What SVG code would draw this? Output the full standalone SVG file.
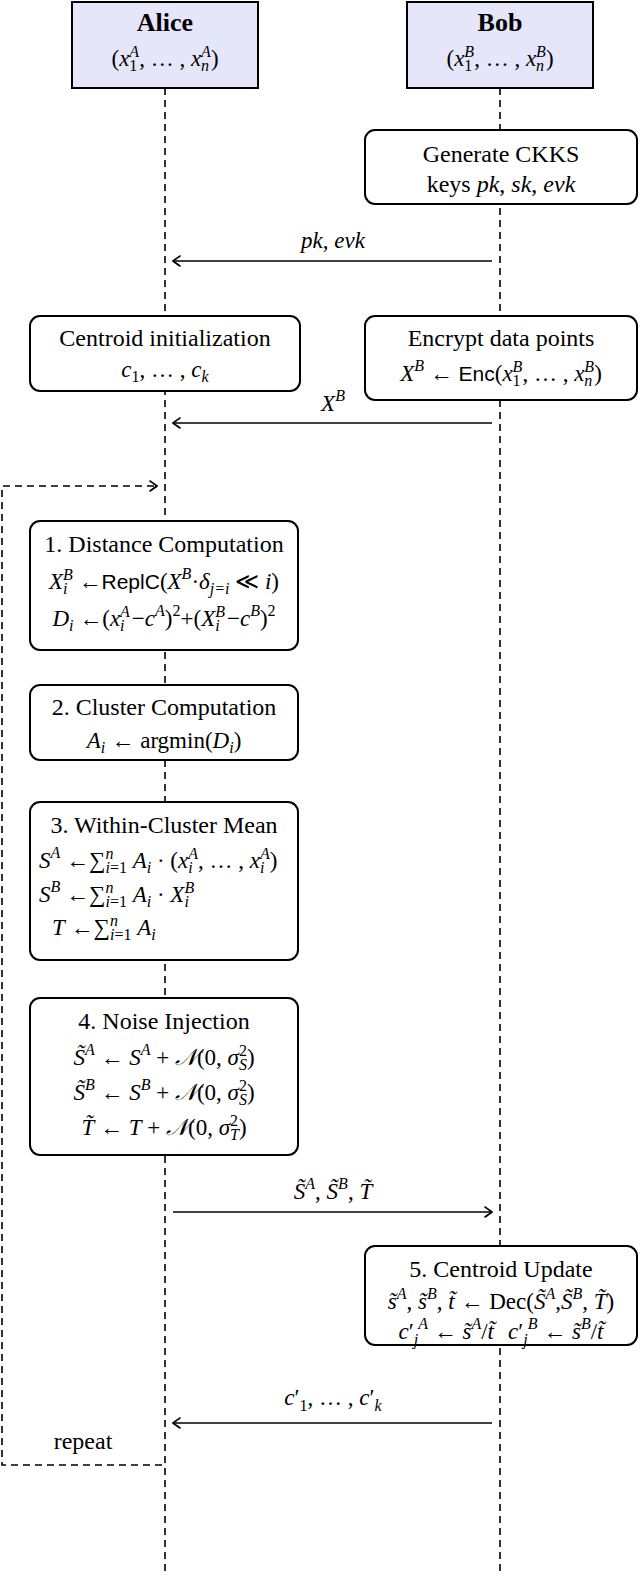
<svg xmlns="http://www.w3.org/2000/svg" width="640" height="1575" viewBox="0 0 640 1575">
<defs>
<marker id="ah" markerUnits="userSpaceOnUse" markerWidth="14" markerHeight="14" refX="0" refY="0" viewBox="-8 -7 10 14" orient="auto">
<path d="M -7 -5 Q -2 -1.5 0 0 Q -2 1.5 -7 5" fill="none" stroke="#000" stroke-width="1.6" stroke-linecap="round"/>
</marker>
<style>
text{font-family:"Liberation Serif","DejaVu Serif",serif;font-size:24px;fill:#000}
.c{text-anchor:middle}
.b{font-weight:bold;font-size:26px}
.m{font-size:23px}
.i{font-style:italic}
.s{font-family:"Liberation Sans","DejaVu Sans",sans-serif;font-size:21px}
.sm{font-size:16px}
.head{fill:#e6e6fa;stroke:#000;stroke-width:2}
.box{fill:#fff;stroke:#000;stroke-width:2}
.life{stroke:#000;stroke-width:1.6;stroke-dasharray:7 5;fill:none}
.msg{stroke:#000;stroke-width:1.6;fill:none;marker-end:url(#ah)}
</style>
</defs>

<g id="lifelines">
<line class="life" x1="165" y1="88" x2="165" y2="1575"/>
<line class="life" x1="500" y1="88" x2="500" y2="1575"/>
</g>

<g id="alice">
<rect class="head" x="72" y="2" width="186" height="86"/>
<text class="c b" x="165" y="31">Alice</text>
<text class="c m" x="165" y="66">(<tspan class="i">x</tspan><tspan class="sm" dy="5">1</tspan><tspan class="sm i" dx="-8" dy="-14">A</tspan><tspan dy="9">, … , </tspan><tspan class="i">x</tspan><tspan class="sm i" dy="5">n</tspan><tspan class="sm i" dx="-8" dy="-14">A</tspan><tspan dy="9">)</tspan></text>
</g>

<g id="bob">
<rect class="head" x="407" y="2" width="186" height="86"/>
<text class="c b" x="500" y="31">Bob</text>
<text class="c m" x="500" y="66">(<tspan class="i">x</tspan><tspan class="sm" dy="5">1</tspan><tspan class="sm i" dx="-8" dy="-14">B</tspan><tspan dy="9">, … , </tspan><tspan class="i">x</tspan><tspan class="sm i" dy="5">n</tspan><tspan class="sm i" dx="-8" dy="-14">B</tspan><tspan dy="9">)</tspan></text>
</g>

<g id="keygen">
<rect class="box" x="365" y="130" width="272" height="74" rx="10"/>
<text class="c" x="501" y="162">Generate CKKS</text>
<text class="c" x="501" y="192">keys <tspan class="i">pk</tspan>, <tspan class="i">sk</tspan>, <tspan class="i">evk</tspan></text>
</g>

<g id="centroid-init">
<rect class="box" x="30" y="316" width="270" height="75" rx="10"/>
<text class="c" x="165" y="346">Centroid initialization</text>
<text class="c m" x="165" y="377"><tspan class="i">c</tspan><tspan class="sm" dy="5">1</tspan><tspan dy="-5">, … , </tspan><tspan class="i">c</tspan><tspan class="sm i" dy="5">k</tspan></text>
</g>

<g id="encrypt">
<rect class="box" x="365" y="316" width="272" height="84" rx="10"/>
<text class="c" x="501" y="346">Encrypt data points</text>
<text class="c m" x="501" y="381"><tspan class="i">X</tspan><tspan class="sm i" dy="-10">B</tspan><tspan dy="10"> ← </tspan><tspan class="s">Enc</tspan>(<tspan class="i">x</tspan><tspan class="sm" dy="5">1</tspan><tspan class="sm i" dx="-8" dy="-14">B</tspan><tspan dy="9">, … , </tspan><tspan class="i">x</tspan><tspan class="sm i" dy="5">n</tspan><tspan class="sm i" dx="-8" dy="-14">B</tspan><tspan dy="9">)</tspan></text>
</g>

<g id="step1">
<rect class="box" x="30" y="521" width="268" height="129" rx="10"/>
<text class="c" x="164" y="552">1. Distance Computation</text>
<text class="c m" x="164" y="589"><tspan class="i">X</tspan><tspan class="sm i" dy="5">i</tspan><tspan class="sm i" dx="-4.5" dy="-14">B</tspan><tspan dy="9"> ←</tspan><tspan class="s">ReplC</tspan>(<tspan class="i">X</tspan><tspan class="sm i" dy="-10">B</tspan><tspan dy="10">·</tspan><tspan class="i">δ</tspan><tspan class="sm i" dy="5">j=i</tspan><tspan dy="-5"> ≪ </tspan><tspan class="i">i</tspan>)</text>
<text class="c m" x="164" y="626"><tspan class="i">D</tspan><tspan class="sm i" dy="5">i</tspan><tspan dy="-5"> ←(</tspan><tspan class="i">x</tspan><tspan class="sm i" dy="5">i</tspan><tspan class="sm i" dx="-4.5" dy="-14">A</tspan><tspan dy="9" dx="2">−</tspan><tspan class="i">c</tspan><tspan class="sm i" dy="-10">A</tspan><tspan dy="10">)</tspan><tspan class="sm" dy="-10">2</tspan><tspan dy="10">+(</tspan><tspan class="i">X</tspan><tspan class="sm i" dy="5">i</tspan><tspan class="sm i" dx="-4.5" dy="-14">B</tspan><tspan dy="9" dx="2">−</tspan><tspan class="i">c</tspan><tspan class="sm i" dy="-10">B</tspan><tspan dy="10">)</tspan><tspan class="sm" dy="-10">2</tspan></text>
</g>

<g id="step2">
<rect class="box" x="30" y="685" width="268" height="75" rx="10"/>
<text class="c" x="164" y="715">2. Cluster Computation</text>
<text class="c m" x="164" y="748"><tspan class="i">A</tspan><tspan class="sm i" dy="5">i</tspan><tspan dy="-5" dx="6">←</tspan><tspan dx="6">argmin(</tspan><tspan class="i">D</tspan><tspan class="sm i" dy="5">i</tspan><tspan dy="-5">)</tspan></text>
</g>

<g id="step3">
<rect class="box" x="30" y="802" width="268" height="158" rx="10"/>
<text class="c" x="164" y="833">3. Within-Cluster Mean</text>
<text class="m" x="39" y="868"><tspan class="i">S</tspan><tspan class="sm i" dy="-10">A</tspan><tspan dy="10"> ←</tspan>∑<tspan class="sm i" dy="-9">n</tspan><tspan class="sm" dx="-8" dy="14"><tspan class="i">i</tspan>=1</tspan><tspan dy="-5"> </tspan><tspan class="i">A</tspan><tspan class="sm i" dy="5">i</tspan><tspan dy="-5"> · (</tspan><tspan class="i">x</tspan><tspan class="sm i" dy="5">i</tspan><tspan class="sm i" dx="-4.5" dy="-14">A</tspan><tspan dy="9">, … , </tspan><tspan class="i">x</tspan><tspan class="sm i" dy="5">i</tspan><tspan class="sm i" dx="-4.5" dy="-14">A</tspan><tspan dy="9">)</tspan></text>
<text class="m" x="39" y="902"><tspan class="i">S</tspan><tspan class="sm i" dy="-10">B</tspan><tspan dy="10"> ←</tspan>∑<tspan class="sm i" dy="-9">n</tspan><tspan class="sm" dx="-8" dy="14"><tspan class="i">i</tspan>=1</tspan><tspan dy="-5"> </tspan><tspan class="i">A</tspan><tspan class="sm i" dy="5">i</tspan><tspan dy="-5"> · </tspan><tspan class="i">X</tspan><tspan class="sm i" dy="5">i</tspan><tspan class="sm i" dx="-4.5" dy="-14">B</tspan></text>
<text class="m" x="52" y="935"><tspan class="i">T</tspan> ←∑<tspan class="sm i" dy="-9">n</tspan><tspan class="sm" dx="-8" dy="14"><tspan class="i">i</tspan>=1</tspan><tspan dy="-5"> </tspan><tspan class="i">A</tspan><tspan class="sm i" dy="5">i</tspan></text>
</g>

<g id="step4">
<rect class="box" x="30" y="998" width="268" height="157" rx="10"/>
<text class="c" x="164" y="1029">4. Noise Injection</text>
<text class="c m" x="164" y="1065"><tspan class="i">S̃</tspan><tspan class="sm i" dy="-10">A</tspan><tspan dy="10"> ← </tspan><tspan class="i">S</tspan><tspan class="sm i" dy="-10">A</tspan><tspan dy="10"> + </tspan><tspan class="i">𝒩</tspan>(0, <tspan class="i">σ</tspan><tspan class="sm" dy="-9">2</tspan><tspan class="sm i" dx="-8" dy="14">S</tspan><tspan dy="-5">)</tspan></text>
<text class="c m" x="164" y="1100"><tspan class="i">S̃</tspan><tspan class="sm i" dy="-10">B</tspan><tspan dy="10"> ← </tspan><tspan class="i">S</tspan><tspan class="sm i" dy="-10">B</tspan><tspan dy="10"> + </tspan><tspan class="i">𝒩</tspan>(0, <tspan class="i">σ</tspan><tspan class="sm" dy="-9">2</tspan><tspan class="sm i" dx="-8" dy="14">S</tspan><tspan dy="-5">)</tspan></text>
<text class="c m" x="164" y="1135"><tspan class="i">T̃</tspan> ← <tspan class="i">T</tspan> + <tspan class="i">𝒩</tspan>(0, <tspan class="i">σ</tspan><tspan class="sm" dy="-9">2</tspan><tspan class="sm i" dx="-8" dy="14">T</tspan><tspan dy="-5">)</tspan></text>
</g>

<g id="step5">
<rect class="box" x="365" y="1246" width="272" height="99" rx="10"/>
<text class="c" x="501" y="1277">5. Centroid Update</text>
<text class="c m" x="501" y="1309"><tspan class="i">s̃</tspan><tspan class="sm i" dy="-10">A</tspan><tspan dy="10">, </tspan><tspan class="i">s̃</tspan><tspan class="sm i" dy="-10">B</tspan><tspan dy="10">, </tspan><tspan class="i">t̃</tspan> ← Dec(<tspan class="i">S̃</tspan><tspan class="sm i" dy="-10">A</tspan><tspan dy="10">,</tspan><tspan class="i">S̃</tspan><tspan class="sm i" dy="-10">B</tspan><tspan dy="10">, </tspan><tspan class="i">T̃</tspan>)</text>
<text class="c m" x="501" y="1339"><tspan class="i">c</tspan><tspan>′</tspan><tspan class="sm i" dy="6">j</tspan><tspan class="sm i" dy="-16">A</tspan><tspan dy="10"> ← </tspan><tspan class="i">s̃</tspan><tspan class="sm i" dy="-10">A</tspan><tspan dy="10">/</tspan><tspan class="i">t̃</tspan><tspan class="i" dx="14">c</tspan><tspan>′</tspan><tspan class="sm i" dy="6">j</tspan><tspan class="sm i" dy="-16">B</tspan><tspan dy="10"> ← </tspan><tspan class="i">s̃</tspan><tspan class="sm i" dy="-10">B</tspan><tspan dy="10">/</tspan><tspan class="i">t̃</tspan></text>
</g>

<g id="connectors">
<line class="msg" x1="492" y1="261" x2="173" y2="261"/>
<line class="msg" x1="492" y1="423" x2="173" y2="423"/>
<line class="msg" x1="173" y1="1212" x2="492" y2="1212"/>
<line class="msg" x1="492" y1="1423" x2="173" y2="1423"/>
<path class="life" d="M 162 1465 L 2 1465 L 2 486 L 157 486" style="marker-end:url(#ah)"/>
</g>

<g id="labels">
<text class="c m" x="333" y="248"><tspan class="i">pk</tspan>, <tspan class="i">evk</tspan></text>
<text class="c m" x="333" y="411"><tspan class="i">X</tspan><tspan class="sm i" dy="-10">B</tspan></text>
<text class="c m" x="333" y="1199"><tspan class="i">S̃</tspan><tspan class="sm i" dy="-10">A</tspan><tspan dy="10">, </tspan><tspan class="i">S̃</tspan><tspan class="sm i" dy="-10">B</tspan><tspan dy="10">, </tspan><tspan class="i">T̃</tspan></text>
<text class="c m" x="333" y="1405"><tspan class="i">c</tspan><tspan>′</tspan><tspan class="sm" dy="6">1</tspan><tspan dy="-6">, … , </tspan><tspan class="i">c</tspan><tspan>′</tspan><tspan class="sm i" dy="6">k</tspan></text>
<text class="c" x="83" y="1449">repeat</text>
</g>
</svg>
